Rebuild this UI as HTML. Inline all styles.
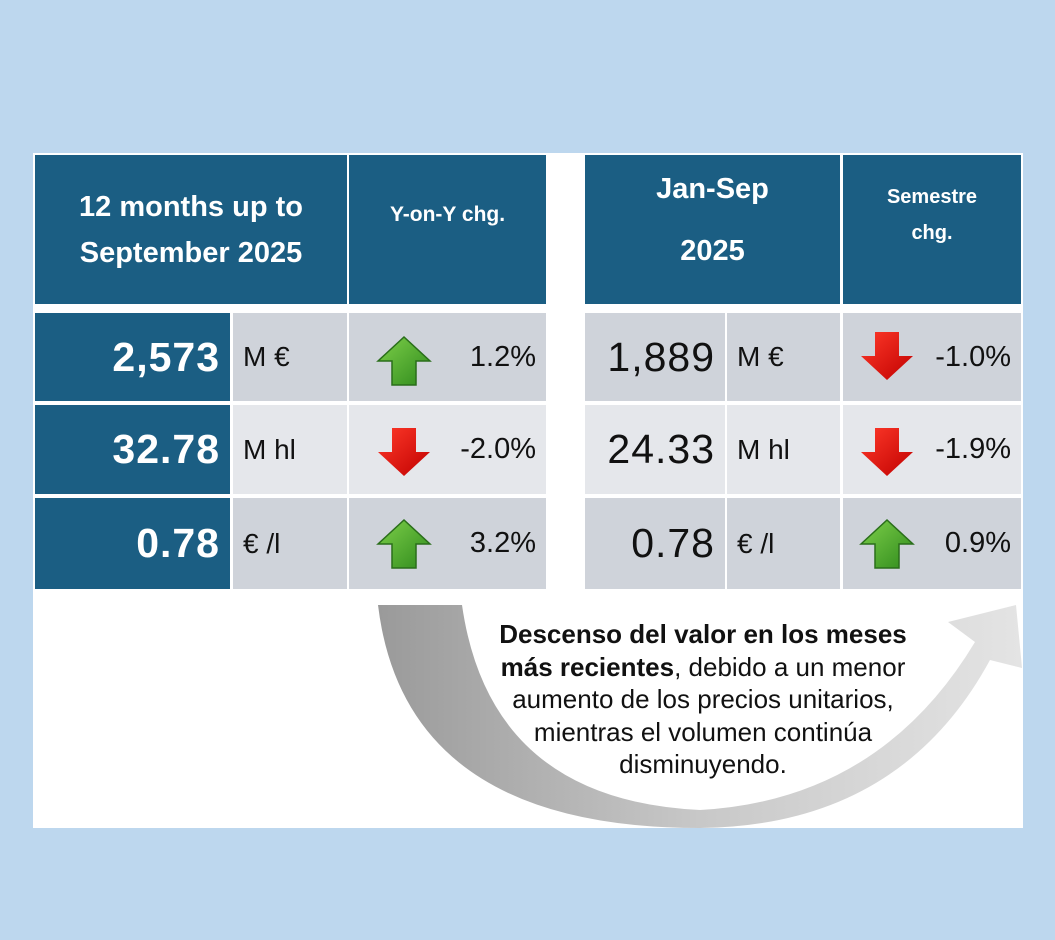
<!DOCTYPE html>
<html><head><meta charset="utf-8"><style>
body{margin:0;width:1055px;height:940px;background:#bdd7ee;position:relative;overflow:hidden;font-family:"Liberation Sans",Arial,sans-serif}
.a{position:absolute;box-sizing:border-box}
.panel{left:33px;top:153px;width:990px;height:675px;background:#fff}
.d{background:#1b5e83;color:#fff}
.g1{background:#cfd3da}.g2{background:#e5e7eb}
.h{display:flex;align-items:center;justify-content:center;text-align:center;font-weight:bold;color:#fff;background:#1b5e83}
.num{display:flex;align-items:center;justify-content:flex-end;padding-right:10px;font-size:41px;letter-spacing:1px}
.unit{display:flex;align-items:center;padding-left:10px;font-size:28px;color:#111}
.pct{display:flex;align-items:center;justify-content:flex-end;padding-right:10px;font-size:29px;color:#111}
svg.ar{position:absolute}
</style></head><body>
<div class="a panel"></div>
<div class="a h" style="left:35px;top:155px;width:312px;height:149px;font-size:29px;line-height:46px">12 months up to<br>September 2025</div>
<div class="a h" style="left:349px;top:155px;width:197px;height:149px;font-size:21px;padding-bottom:30px">Y-on-Y chg.</div>
<div class="a h" style="left:585px;top:155px;width:255px;height:149px;font-size:29px;line-height:62px;padding-bottom:20px">Jan-Sep<br>2025</div>
<div class="a h" style="left:843px;top:155px;width:178px;height:149px;font-size:20px;line-height:36px;padding-bottom:30px">Semestre<br>chg.</div>

<div class="a d num" style="left:35px;top:313px;width:195px;height:88px;font-weight:bold">2,573</div>
<div class="a g1 unit" style="left:233px;top:313px;width:114px;height:88px">M €</div>
<div class="a g1 pct" style="left:349px;top:313px;width:197px;height:88px">1.2%</div>
<div class="a d num" style="left:35px;top:405px;width:195px;height:89px;font-weight:bold">32.78</div>
<div class="a g2 unit" style="left:233px;top:405px;width:114px;height:89px">M hl</div>
<div class="a g2 pct" style="left:349px;top:405px;width:197px;height:89px">-2.0%</div>
<div class="a d num" style="left:35px;top:498px;width:195px;height:91px;font-weight:bold">0.78</div>
<div class="a g1 unit" style="left:233px;top:498px;width:114px;height:91px">€ /l</div>
<div class="a g1 pct" style="left:349px;top:498px;width:197px;height:91px">3.2%</div>
<div class="a g1 num" style="left:585px;top:313px;width:140px;height:88px;color:#111">1,889</div>
<div class="a g1 unit" style="left:727px;top:313px;width:113px;height:88px">M €</div>
<div class="a g1 pct" style="left:843px;top:313px;width:178px;height:88px">-1.0%</div>
<div class="a g2 num" style="left:585px;top:405px;width:140px;height:89px;color:#111">24.33</div>
<div class="a g2 unit" style="left:727px;top:405px;width:113px;height:89px">M hl</div>
<div class="a g2 pct" style="left:843px;top:405px;width:178px;height:89px">-1.9%</div>
<div class="a g1 num" style="left:585px;top:498px;width:140px;height:91px;color:#111">0.78</div>
<div class="a g1 unit" style="left:727px;top:498px;width:113px;height:91px">€ /l</div>
<div class="a g1 pct" style="left:843px;top:498px;width:178px;height:91px">0.9%</div>

<svg class="ar" style="left:0;top:0" width="1055" height="940">
<defs>
<linearGradient id="gu" x1="0" y1="0" x2="1" y2="1"><stop offset="0" stop-color="#7ed04a"/><stop offset="1" stop-color="#2f8a1c"/></linearGradient>
<linearGradient id="rd" x1="0" y1="0" x2="1" y2="1"><stop offset="0" stop-color="#ff3a2a"/><stop offset="1" stop-color="#c00000"/></linearGradient>
<linearGradient id="cg" x1="0" y1="0" x2="1" y2="0"><stop offset="0" stop-color="#9a9a9a"/><stop offset="0.5" stop-color="#c8c8c8"/><stop offset="1" stop-color="#e4e4e4"/></linearGradient>
<g id="up"><path d="M0,24 L26,0 L52,24 L38,24 L38,48 L14,48 L14,24 Z" fill="url(#gu)" stroke="#2a6e1a" stroke-width="1.5"/></g>
<g id="dn"><path d="M14,0 L38,0 L38,24 L52,24 L26,48 L0,24 L14,24 Z" fill="url(#rd)"/></g>
</defs>
<use href="#up" x="378" y="337"/>
<use href="#dn" x="378" y="428"/>
<use href="#up" x="378" y="520"/>
<use href="#dn" x="861" y="332"/>
<use href="#dn" x="861" y="428"/>
<use href="#up" x="861" y="520"/>
<path d="M378,605 Q405,828 700,828 Q900,826 990,660 L1022,668 L1016,605 L948,622 L975,642 Q880,800 700,810 Q490,800 462,605 Z" fill="url(#cg)"/>
</svg>
<div class="a" style="left:463px;top:618px;width:480px;text-align:center;font-size:26px;line-height:32.5px;color:#111"><b>Descenso del valor en los meses<br>más recientes</b>, debido a un menor<br>aumento de los precios unitarios,<br>mientras el volumen continúa<br>disminuyendo.</div>
</body></html>
